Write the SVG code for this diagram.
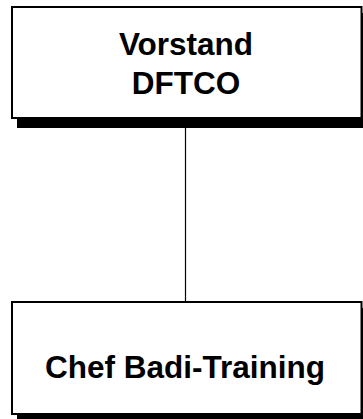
<svg xmlns="http://www.w3.org/2000/svg" width="363" height="419" viewBox="0 0 363 419">
  <style>
    .shadow { fill: #000000; }
    .box { fill: #ffffff; stroke: #000000; stroke-width: 2; }
    .label { font-family: "Liberation Sans", Arial, sans-serif; font-weight: bold; font-size: 31.5px; fill: #000000; text-anchor: middle; }
    .conn { stroke: #000000; stroke-width: 1.2; fill: none; }
  </style>
  <rect width="363" height="419" fill="#ffffff"/>
  <g id="connectors">
    <line class="conn" x1="185.5" y1="119" x2="185.5" y2="302"/>
  </g>
  <g id="node-vorstand">
    <rect class="shadow" x="17" y="13" width="352" height="115"/>
    <rect class="box" x="12" y="7" width="349.5" height="111"/>
    <text class="label" x="186" y="55">Vorstand</text>
    <text class="label" x="186" y="94">DFTCO</text>
  </g>
  <g id="node-chef">
    <rect class="shadow" x="17" y="308" width="352" height="115"/>
    <rect class="box" x="12" y="302" width="349.5" height="112"/>
    <text class="label" x="185" y="378">Chef Badi-Training</text>
  </g>
</svg>
